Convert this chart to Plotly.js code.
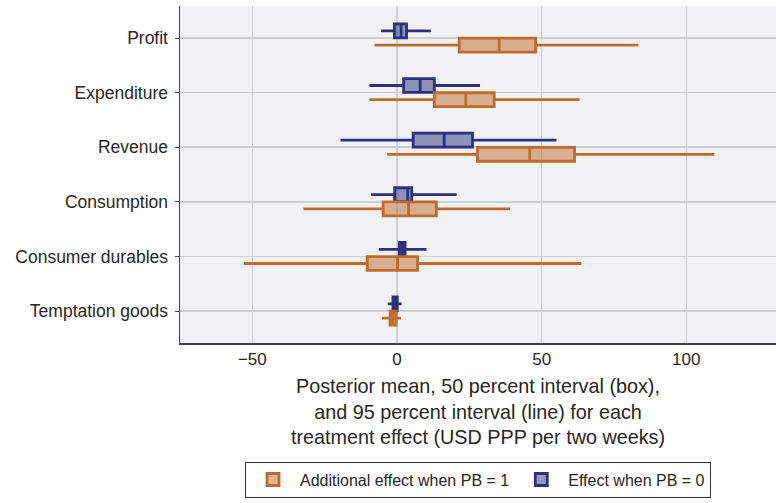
<!DOCTYPE html>
<html>
<head>
<meta charset="utf-8">
<script src="https://cdn.plot.ly/plotly-3.0.1.min.js"></script>
<style>
  html, body { margin: 0; padding: 0; background: #fff; }
  #chart { width: 776px; height: 503px; }
</style>
</head>
<body>
<div id="chart"></div>
<script>
// outcomes, top to bottom
var outcomes = ['Profit', 'Expenditure', 'Revenue', 'Consumption', 'Consumer durables', 'Temptation goods'];

// additional effect when PB = 1 (orange)
var pb1Low95  = [-7.8, -9.5, -3.4, -32.3, -52.9, -5.2];
var pb1Q25    = [21.5, 12.9, 27.8, -4.8, -10.3, -2.4];
var pb1Mean   = [35.3, 23.8, 45.9, 4.0, 0.2, -1.4];
var pb1Q75    = [47.9, 33.6, 61.4, 13.6, 7.1, -0.3];
var pb1High95 = [83.4, 63.1, 109.7, 39.1, 63.7, 1.4];

// effect when PB = 0 (blue)
var pb0Low95  = [-5.5, -9.5, -19.5, -9.0, -6.3, -3.2];
var pb0Q25    = [-0.9, 2.3, 5.6, -0.8, 0.8, -1.4];
var pb0Mean   = [1.4, 8.0, 16.3, 3.7, 1.8, -0.6];
var pb0Q75    = [3.3, 12.9, 26.1, 5.1, 2.8, 0.1];
var pb0High95 = [11.7, 28.7, 55.1, 20.6, 10.2, 1.6];

var orange = '#C06A2B';
var blue = '#2E2F7E';

function boxTrace(name, lo, q1, med, q3, hi, color, fill) {
    return {
        type: 'box',
        orientation: 'h',
        name: name,
        y: outcomes,
        lowerfence: lo,
        q1: q1,
        median: med,
        q3: q3,
        upperfence: hi,
        boxpoints: false,
        whiskerwidth: 0,
        line: {color: color, width: 2.8},
        fillcolor: fill,
        hoverinfo: 'skip'
    };
}

// blue first so it sits above the orange one in each group
var traces = [
    boxTrace('Effect when PB = 0', pb0Low95, pb0Q25, pb0Mean, pb0Q75, pb0High95, blue, 'rgba(46,47,126,0.5)'),
    boxTrace('Additional effect when PB = 1', pb1Low95, pb1Q25, pb1Mean, pb1Q75, pb1High95, orange, 'rgba(192,106,43,0.5)')
];

var layout = {
    width: 776,
    height: 503,
    margin: {l: 180, r: 0, t: 6, b: 160},
    paper_bgcolor: '#ffffff',
    plot_bgcolor: '#F1F2F4',
    font: {family: 'Liberation Sans, Arial, sans-serif', color: '#262626', size: 17},
    boxmode: 'group',
    boxgap: 0.48,
    boxgroupgap: 0.02,
    xaxis: {
        range: [-75, 131],
        tickvals: [-50, 0, 50, 100],
        ticktext: ['\u221250', '0', '50', '100'],
        showgrid: true,
        gridcolor: '#CFCFD2',
        gridwidth: 1.5,
        zeroline: false,
        showline: true,
        linecolor: '#444',
        linewidth: 1.5,
        ticks: '',
        tickfont: {size: 17},
        title: {
            text: 'Posterior mean, 50 percent interval (box),<br>and 95 percent interval (line) for each<br>treatment effect (USD PPP per two weeks)',
            font: {size: 19.8},
            standoff: 11
        }
    },
    yaxis: {
        type: 'category',
        categoryorder: 'array',
        categoryarray: outcomes,
        range: [5.586, -0.586],
        showgrid: true,
        gridcolor: '#CFCFD2',
        gridwidth: 1.5,
        zeroline: false,
        showline: true,
        linecolor: '#444',
        linewidth: 1.5,
        ticks: 'outside',
        ticklen: 4,
        tickcolor: '#444',
        tickfont: {size: 17.5},
        ticklabelstandoff: 3
    },
    legend: {
        orientation: 'h',
        x: 0.5,
        xanchor: 'center',
        y: -0.352,
        yanchor: 'top',
        bordercolor: '#333',
        borderwidth: 1,
        font: {size: 16},
        itemwidth: 44,
        traceorder: 'reversed'
    },
    showlegend: true
};

Plotly.newPlot('chart', traces, layout, {displayModeBar: false, staticPlot: true});
</script>
</body>
</html>
